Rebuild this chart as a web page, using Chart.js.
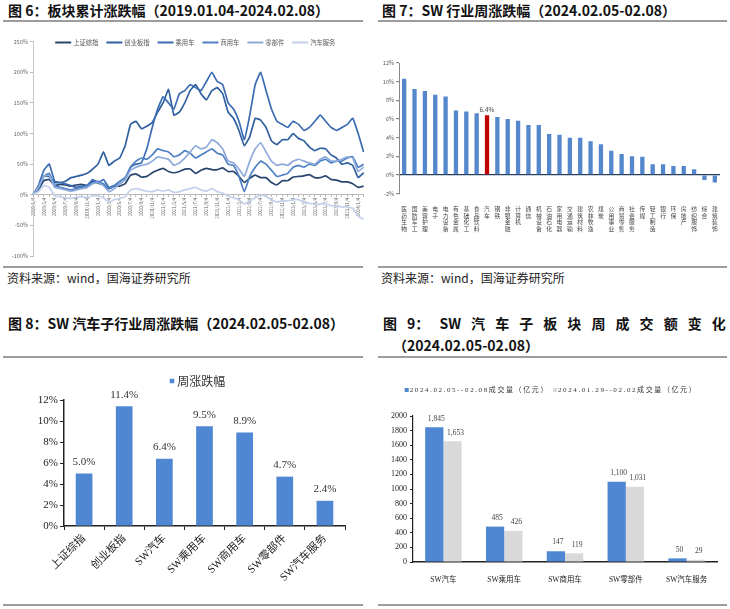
<!DOCTYPE html>
<html>
<head>
<meta charset="utf-8">
<script src="https://cdn.jsdelivr.net/npm/chart.js@4.4.1/dist/chart.umd.min.js"></script>
<style>
  body { margin: 0; width: 730px; height: 609px; background: #fff; position: relative; overflow: hidden;
         font-family: "Noto Sans CJK SC", sans-serif; color: #111; }
  .title { position: absolute; font-size: 14px; line-height: 18px; font-weight: bold; white-space: nowrap; }
  .src { position: absolute; font-size: 12px; line-height: 16px; color: #222; white-space: nowrap; }
  .rule { position: absolute; height: 2px; background: #9c9c9c; }
  canvas { position: absolute; }
  #t9a { display: flex; justify-content: space-between; width: 343px; }
</style>
</head>
<body>

<div class="title" style="left:8px;top:1px">图 6：板块累计涨跌幅（2019.01.04-2024.02.08）</div>
<div class="title" style="left:382px;top:1px">图 7：SW 行业周涨跌幅（2024.02.05-02.08）</div>
<div class="rule" style="left:3px;top:20px;width:360px"></div>
<div class="rule" style="left:378px;top:20px;width:349px"></div>

<canvas id="cumChart" style="left:0;top:30px" width="370" height="236"></canvas>
<canvas id="swChart" style="left:370px;top:30px" width="360" height="236"></canvas>

<div class="rule" style="left:3px;top:266px;width:360px"></div>
<div class="rule" style="left:378px;top:266px;width:349px"></div>
<div class="src" style="left:7px;top:270px">资料来源：wind，国海证券研究所</div>
<div class="src" style="left:381px;top:270px">资料来源：wind，国海证券研究所</div>

<div class="title" style="left:8px;top:314px">图 8：SW 汽车子行业周涨跌幅（2024.02.05-02.08）</div>
<div class="title" id="t9a" style="left:383px;top:314px">
  <span>图</span><span>9：</span><span>SW</span><span>汽</span><span>车</span><span>子</span><span>板</span><span>块</span><span>周</span><span>成</span><span>交</span><span>额</span><span>变</span><span>化</span>
</div>
<div class="title" style="left:393px;top:336px">（2024.02.05-02.08）</div>
<div class="rule" style="left:3px;top:356px;width:360px"></div>
<div class="rule" style="left:378px;top:356px;width:349px"></div>

<canvas id="subChart" style="left:0;top:362px" width="365" height="242"></canvas>
<canvas id="volChart" style="left:365px;top:362px" width="365" height="242"></canvas>

<div class="rule" style="left:3px;top:604px;width:360px"></div>
<div class="rule" style="left:378px;top:604px;width:349px"></div>

<script>
// ---- 图6 板块累计涨跌幅 (monthly readings, %)
const dates = [
  '2019/1/4','2019/2/4','2019/3/4','2019/4/4','2019/5/4','2019/6/4','2019/7/4','2019/8/4','2019/9/4','2019/10/4','2019/11/4','2019/12/4',
  '2020/1/4','2020/2/4','2020/3/4','2020/4/4','2020/5/4','2020/6/4','2020/7/4','2020/8/4','2020/9/4','2020/10/4','2020/11/4','2020/12/4',
  '2021/1/4','2021/2/4','2021/3/4','2021/4/4','2021/5/4','2021/6/4','2021/7/4','2021/8/4','2021/9/4','2021/10/4','2021/11/4','2021/12/4',
  '2022/1/4','2022/2/4','2022/3/4','2022/4/4','2022/5/4','2022/6/4','2022/7/4','2022/8/4','2022/9/4','2022/10/4','2022/11/4','2022/12/4',
  '2023/1/4','2023/2/4','2023/3/4','2023/4/4','2023/5/4','2023/6/4','2023/7/4','2023/8/4','2023/9/4','2023/10/4','2023/11/4','2023/12/4',
  '2024/1/4','2024/2/8'
];
const shIndex = [0,8,23,25,15,17,16,14,16,17,15,22, 19,16,10,14,14,18,32,34,29,30,36,40,
  43,38,36,38,42,42,35,40,43,41,41,44, 38,38,30,20,27,32,28,28,20,16,23,23,
  29,30,31,33,28,28,31,25,24,21,21,18, 12,14];
const gemIndex = [0,12,30,30,20,20,22,28,30,32,35,42, 50,70,48,55,60,80,115,120,108,112,118,135,
  150,172,130,135,150,170,180,165,155,170,175,165, 135,125,105,80,95,125,122,110,88,82,90,90,
  100,92,88,78,72,76,75,65,60,50,52,48, 28,36];
const passCar = [0,15,40,50,22,20,18,15,12,14,15,25, 20,25,12,15,18,25,45,50,52,75,110,140,
  160,150,140,165,170,180,175,170,185,200,185,180, 150,140,120,90,130,180,200,170,140,120,115,110,
  120,115,105,110,120,130,120,110,105,110,115,125, 100,70];
const commCar = [0,10,30,35,15,12,10,8,10,12,14,20, 22,18,10,15,22,28,45,55,60,58,65,75,
  72,70,62,65,72,68,60,65,70,75,68,65, 50,48,30,5,30,45,55,50,40,30,32,35,
  45,48,45,50,48,55,58,52,55,55,60,62, 45,50];
const autoParts = [0,12,30,32,12,10,8,6,8,10,12,18, 20,15,5,10,18,25,40,45,48,50,55,62,
  60,58,48,52,60,70,80,75,78,90,85,75, 55,52,42,30,55,75,85,70,55,48,50,48,
  55,58,55,52,50,58,62,55,55,58,62,60, 38,45];
const autoSvc = [0,5,15,12,-2,-3,-5,-6,-4,-3,-5,-2, -2,-5,-12,-8,-6,-3,8,10,8,6,5,8,
  6,8,4,5,8,10,12,8,6,10,5,3, -2,-5,-8,-15,-10,-5,0,-3,-8,-12,-10,-10,
  -8,-8,-12,-14,-16,-15,-14,-18,-18,-20,-20,-22, -35,-40];
const cumNames = ['上证综指','创业板指','乘用车','商用车','零部件','汽车服务'];
const cumTicks = [250,200,150,100,50,0,-50,-100];

// ---- 图7 SW 行业周涨跌幅 (%)
const industries = ['医药生物','国防军工','美容护理','电子','电力设备','有色金属','基础化工','食品饮料','汽车','钢铁',
  '非银金融','计算机','通信','机械设备','石油石化','家用电器','交通运输','建筑材料','农林牧渔','煤炭',
  '公用事业','商贸零售','社会服务','传媒','轻工制造','银行','环保','房地产','纺织服饰','综合','建筑装饰'];
const industryChg = [10.3,9.2,9.0,8.6,8.4,6.9,6.8,6.6,6.4,6.2, 6.0,5.8,5.35,5.35,4.4,4.3,4.0,4.0,3.6,3.3,
  2.6,2.25,2.0,1.95,1.15,1.15,0.95,0.95,0.6,-0.55,-0.8];

// ---- 图8 SW 汽车子行业周涨跌幅 (%)
const subNames = ['上证综指','创业板指','SW汽车','SW乘用车','SW商用车','SW零部件','SW汽车服务'];
const subChg = [5.0,11.4,6.4,9.5,8.9,4.7,2.4];

// ---- 图9 成交额 (亿元)
const volNames = ['SW汽车','SW乘用车','SW商用车','SW零部件','SW汽车服务'];
const volThisWeek = [1845,485,147,1100,50];
const volLastWeek = [1653,426,119,1031,29];
const volLabels = ['2024.02.05--02.08成交量（亿元）','2024.01.29--02.02成交量（亿元）'];

const serif = '"Liberation Serif", "Noto Sans CJK SC", serif';
const sans = '"Noto Sans CJK SC", sans-serif';

// legend drawn on canvas at a fixed spot
function makeLegend(cfg) {
  return {
    id: 'fixedLegend',
    afterDraw(chart) {
      const ctx = chart.ctx, area = chart.chartArea;
      ctx.save();
      ctx.font = cfg.font;
      if (cfg.letterSpacing) ctx.letterSpacing = cfg.letterSpacing;
      ctx.textBaseline = 'middle';
      const items = chart.data.datasets.map(ds => ({
        ds, w: cfg.sample + cfg.gap + ctx.measureText(ds.label).width
      }));
      const total = items.reduce((s, it) => s + it.w, 0) + cfg.spacing * (items.length - 1);
      let x = (area.left + area.right) / 2 - total / 2 + (cfg.dx || 0);
      const y = cfg.y;
      items.forEach(it => {
        ctx.fillStyle = it.ds.backgroundColor;
        ctx.fillRect(x, y - cfg.sample / 2, cfg.sample, cfg.sample);
        ctx.fillStyle = cfg.color;
        ctx.fillText(it.ds.label, x + cfg.sample + cfg.gap, y + 0.5);
        x += it.w + cfg.spacing;
      });
      ctx.restore();
    }
  };
}

// value labels above bars
function makeBarLabels(cfg) {
  return {
    id: 'barLabels',
    afterDatasetsDraw(chart) {
      const ctx = chart.ctx;
      ctx.save();
      ctx.font = cfg.font;
      ctx.fillStyle = cfg.color;
      ctx.textAlign = 'center';
      ctx.textBaseline = 'bottom';
      chart.data.datasets.forEach((ds, di) => {
        chart.getDatasetMeta(di).data.forEach((bar, i) => {
          if (cfg.only && !cfg.only(di, i)) return;
          ctx.fillText(cfg.format(ds.data[i]), bar.x + (cfg.dx ? cfg.dx[di] : 0), bar.y - cfg.gap);
        });
      });
      ctx.restore();
    }
  };
}

window.onload = () => {
  // 图6
  const lineColors = ['#27456f','#3060a0','#3b6cb3','#4d80c4','#8eaadb','#c3d1ea'];
  const cumSeries = [shIndex, gemIndex, passCar, commCar, autoParts, autoSvc];
  new Chart(document.getElementById('cumChart'), {
    type: 'line',
    data: {
      labels: dates,
      datasets: cumSeries.map((d, i) => ({
        label: cumNames[i], data: d, borderColor: lineColors[i], borderWidth: 1.7,
        pointRadius: 0, tension: 0.1, fill: false
      })).reverse()
    },
    options: {
      animation: false, responsive: false,
      layout: { padding: { top: 11.7, bottom: 10, left: 0, right: 1 } },
      plugins: { legend: { display: false }, tooltip: { enabled: false } },
      scales: {
        x: {
          position: { y: 0 },
          grid: { drawOnChartArea: false, tickLength: 2, color: '#bbb' },
          border: { color: '#bbb' },
          ticks: {
            autoSkip: false, maxRotation: 90, minRotation: 90, padding: 1,
            font: { size: 4.5, family: sans }, color: '#666',
            callback: (v, i) => (i % 2 === 0 ? dates[i] : '')
          }
        },
        y: {
          min: -100, max: 250,
          afterBuildTicks: s => { s.ticks = cumTicks.map(v => ({ value: v })); },
          afterFit: s => { s.width = 33; },
          grid: { drawOnChartArea: false, tickLength: 3, color: '#bbb' },
          border: { color: '#c8c8c8' },
          ticks: { font: { size: 5.5, family: sans }, color: '#666', padding: 2, callback: v => v + '%' }
        }
      }
    },
    plugins: [{
      id: 'orderLegend',
      afterDraw(chart) {
        // legend in original series order
        const ctx = chart.ctx, area = chart.chartArea;
        ctx.save();
        ctx.font = '6.3px ' + sans;
        ctx.textBaseline = 'middle';
        const sample = 16, gap = 2, spacing = 8;
        const items = cumNames.map((n, i) => ({ n, c: lineColors[i], w: sample + gap + ctx.measureText(n).width }));
        const total = items.reduce((s, it) => s + it.w, 0) + spacing * (items.length - 1);
        let x = (area.left + area.right) / 2 - total / 2 - 3;
        const y = area.top + 0.8;
        items.forEach(it => {
          ctx.strokeStyle = it.c; ctx.lineWidth = 2;
          ctx.beginPath(); ctx.moveTo(x, y); ctx.lineTo(x + sample, y); ctx.stroke();
          ctx.fillStyle = '#555';
          ctx.fillText(it.n, x + sample + gap, y + 0.5);
          x += it.w + spacing;
        });
        ctx.restore();
      }
    }]
  });

  // 图7
  new Chart(document.getElementById('swChart'), {
    type: 'bar',
    data: {
      labels: industries.map(s => s.split('')),
      datasets: [{
        label: '周涨跌幅', data: industryChg,
        backgroundColor: industries.map(n => (n === '汽车' ? '#c00000' : '#5587cc')),
        categoryPercentage: 0.8, barPercentage: 0.52
      }]
    },
    options: {
      animation: false, responsive: false,
      layout: { padding: { top: 33, bottom: 12.4, left: 0, right: 10 } },
      plugins: { legend: { display: false }, tooltip: { enabled: false } },
      scales: {
        x: {
          afterFit: s => { s.height = 60; },
          grid: { display: false }, border: { display: false },
          ticks: { autoSkip: false, maxRotation: 0, minRotation: 0, padding: 4,
                   font: { size: 5.8, family: sans, lineHeight: 1.12 }, color: '#444' }
        },
        y: {
          min: -2, max: 12,
          afterFit: s => { s.width = 29; },
          grid: { color: c => (c.tick && c.tick.value === 0 ? '#2b3d5c' : 'transparent'),
                  tickColor: '#888', tickLength: 3, lineWidth: 1.2 },
          border: { color: '#888' },
          ticks: { stepSize: 2, font: { size: 5.5, family: sans }, color: '#555', padding: 2, callback: v => v + '%' }
        }
      }
    },
    plugins: [makeBarLabels({
      font: '6.5px ' + sans, color: '#444', gap: 2,
      only: (di, i) => industries[i] === '汽车',
      format: v => v.toFixed(1) + '%'
    })]
  });

  // 图8
  new Chart(document.getElementById('subChart'), {
    type: 'bar',
    data: {
      labels: subNames,
      datasets: [{ label: '周涨跌幅', data: subChg, backgroundColor: '#4f87d3',
                   categoryPercentage: 0.8, barPercentage: 0.52 }]
    },
    options: {
      animation: false, responsive: false,
      layout: { padding: { top: 38, bottom: 13, left: 0, right: 20 } },
      plugins: { legend: { display: false }, tooltip: { enabled: false } },
      scales: {
        x: {
          afterFit: s => { s.height = 65; },
          grid: { drawOnChartArea: false, tickLength: 4, color: '#222' },
          border: { color: '#222', width: 1.5 },
          ticks: { autoSkip: false, maxRotation: 45, minRotation: 45, padding: 2,
                   font: { size: 11, family: serif }, color: '#222' }
        },
        y: {
          min: 0, max: 12,
          afterFit: s => { s.width = 64; },
          grid: { drawOnChartArea: false, tickLength: 4, color: '#222' },
          border: { color: '#222', width: 1.5 },
          ticks: { stepSize: 2, font: { size: 11, family: serif }, color: '#222', padding: 2, callback: v => v + '%' }
        }
      }
    },
    plugins: [
      makeBarLabels({ font: '11px ' + serif, color: '#333', gap: 6, format: v => v.toFixed(1) + '%' }),
      makeLegend({ y: 19, font: '12px ' + sans, color: '#333', sample: 4.5, gap: 3, spacing: 10, dx: -7 })
    ]
  });

  // 图9
  new Chart(document.getElementById('volChart'), {
    type: 'bar',
    data: {
      labels: volNames,
      datasets: [
        { label: volLabels[0], data: volThisWeek, backgroundColor: '#4f87d3', categoryPercentage: 0.6, barPercentage: 1 },
        { label: volLabels[1], data: volLastWeek, backgroundColor: '#d9d9d9', categoryPercentage: 0.6, barPercentage: 1 }
      ]
    },
    options: {
      animation: false, responsive: false,
      layout: { padding: { top: 54, bottom: 17, left: 0, right: 13 } },
      plugins: { legend: { display: false }, tooltip: { enabled: false } },
      scales: {
        x: {
          afterFit: s => { s.height = 25; },
          grid: { display: false },
          border: { color: '#222', width: 1.5 },
          ticks: { font: { size: 7.5, family: serif }, color: '#222', padding: 6 }
        },
        y: {
          min: 0, max: 2000,
          afterFit: s => { s.width = 48; },
          grid: { drawOnChartArea: false, tickLength: 3, color: '#222' },
          border: { color: '#222', width: 1.2 },
          ticks: { stepSize: 200, font: { size: 8, family: serif }, color: '#222', padding: 3,
                   callback: v => String(v) }
        }
      }
    },
    plugins: [
      makeBarLabels({ font: '7.5px ' + serif, color: '#444', gap: 5, dx: [2, 3],
                      format: v => v.toLocaleString('en-US') }),
      makeLegend({ y: 28, font: '7px ' + serif, color: '#333', sample: 4, gap: 1,
                   spacing: 4, dx: -14, letterSpacing: '1.6px' })
    ]
  });
};
</script>
</body>
</html>
